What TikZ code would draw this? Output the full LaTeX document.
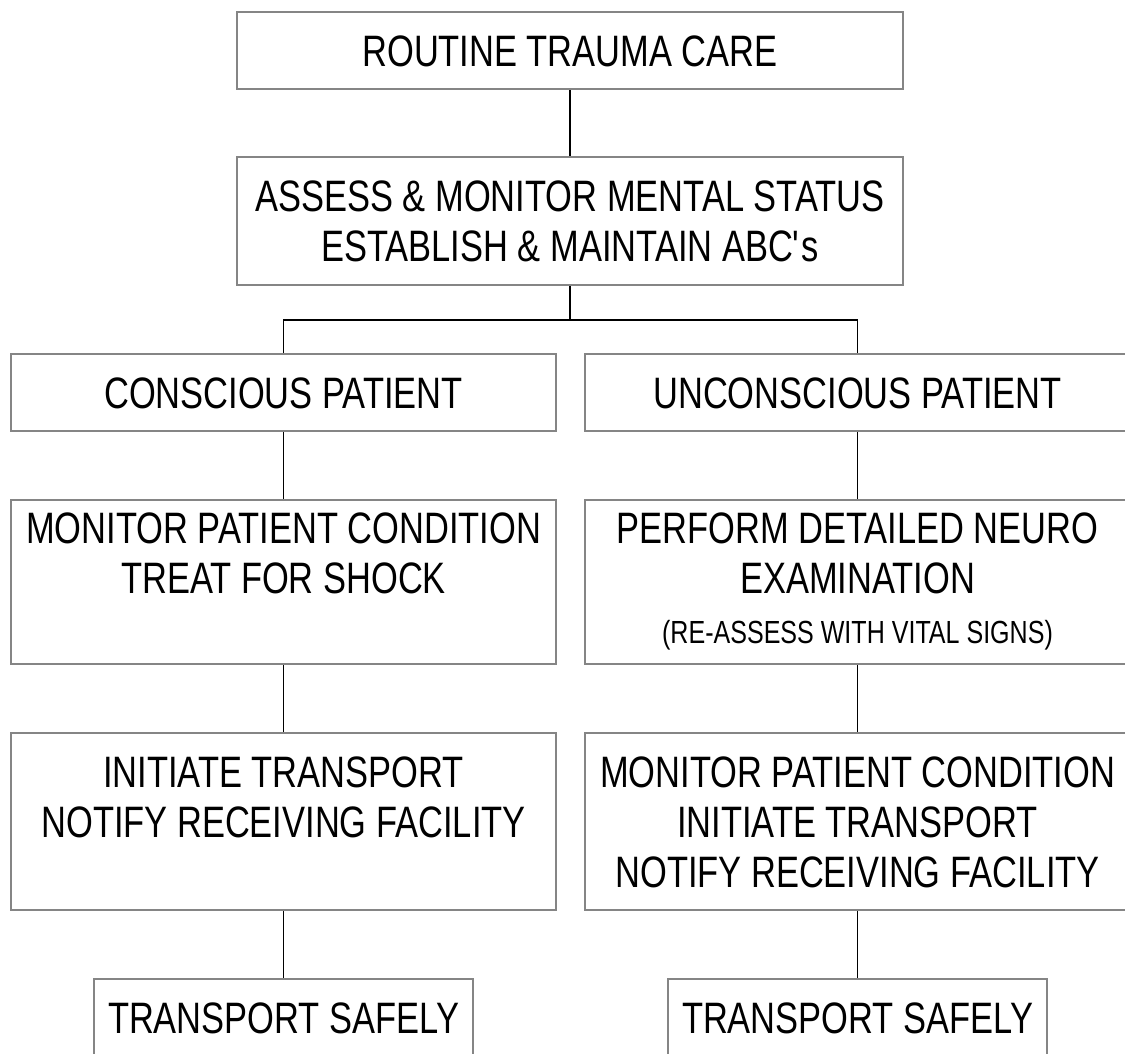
\documentclass[tikz,border=0pt]{standalone}
\usepackage{fontspec}
\setmainfont[FakeStretch=0.783]{Liberation Sans}
% one line of box text: fixed cap-height strut, glyph depth ignored
\newcommand\bigline[1]{\rule{0pt}{31.5pt}\smash{#1}}
\newcommand\smallline[1]{\rule[-8pt]{0pt}{31pt}\smash{\fontsize{32}{50}\selectfont #1}}
\definecolor{boxgray}{HTML}{858585}
\tikzset{
  flowbox/.style={draw=boxgray, line width=2.3pt, fill=white, rectangle,
    inner sep=0pt, align=center, font=\fontsize{44}{50}\selectfont},
  link/.style={draw=black, line width=1.8pt}
}
\begin{document}
\begin{tikzpicture}[x=1pt,y=-1pt]
\useasboundingbox (0,0) rectangle (1125,1054);

\node[flowbox, minimum width=666pt, minimum height=77pt] (routine) at (570,50.5)
  {\bigline{ROUTINE TRAUMA CARE}};
\node[flowbox, minimum width=666pt, minimum height=128pt] (assess) at (570,221)
  {\bigline{ASSESS \& MONITOR MENTAL STATUS}\\\bigline{ESTABLISH \& MAINTAIN ABC\textquotesingle s}};

\node[flowbox, minimum width=545pt, minimum height=77pt] (conscious) at (283.5,392.5)
  {\bigline{CONSCIOUS PATIENT}};
\node[flowbox, minimum width=545pt, minimum height=77pt] (unconscious) at (857.5,392.5)
  {\bigline{UNCONSCIOUS PATIENT}};

\node[flowbox, minimum width=545pt, minimum height=164pt] (monitorL) at (283.5,582)
  {\bigline{MONITOR PATIENT CONDITION}\\\bigline{TREAT FOR SHOCK}\\\smallline{}};
\node[flowbox, minimum width=545pt, minimum height=164pt] (neuro) at (857.5,582)
  {\bigline{PERFORM DETAILED NEURO}\\\bigline{EXAMINATION}\\\smallline{(RE-ASSESS WITH VITAL SIGNS)}};

\node[flowbox, minimum width=545pt, minimum height=177pt] (initiateL) at (283.5,821.5)
  {\bigline{INITIATE TRANSPORT}\\\bigline{NOTIFY RECEIVING FACILITY}\\\bigline{}};
\node[flowbox, minimum width=545pt, minimum height=177pt] (monitorR) at (857.5,821.5)
  {\bigline{MONITOR PATIENT CONDITION}\\\bigline{INITIATE TRANSPORT}\\\bigline{NOTIFY RECEIVING FACILITY}};

\node[flowbox, minimum width=379pt, minimum height=77pt] (transportL) at (283.5,1017.5)
  {\bigline{TRANSPORT SAFELY}};
\node[flowbox, minimum width=379pt, minimum height=77pt] (transportR) at (857.5,1017.5)
  {\bigline{TRANSPORT SAFELY}};

% branch point below the assessment box
\coordinate (split) at (570,320);

\draw[link] (routine) -- (assess);
\draw[link] (assess) -- (split);
\draw[link] (conscious.north) |- (split) -| (unconscious.north);
\draw[link] (conscious) -- (monitorL);
\draw[link] (monitorL) -- (initiateL);
\draw[link] (initiateL) -- (transportL);
\draw[link] (unconscious) -- (neuro);
\draw[link] (neuro) -- (monitorR);
\draw[link] (monitorR) -- (transportR);
\end{tikzpicture}
\end{document}
